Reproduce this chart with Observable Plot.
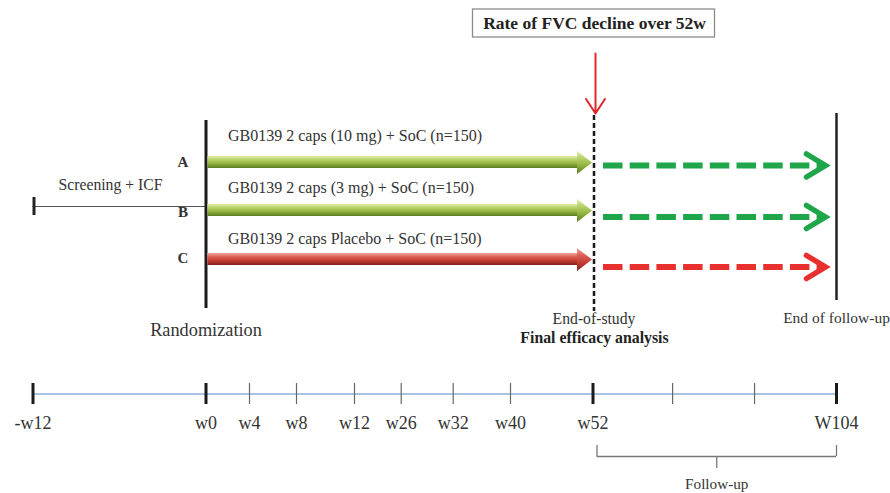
<!DOCTYPE html>
<html><head><meta charset="utf-8">
<script src="https://cdn.jsdelivr.net/npm/d3@7"></script>
<script src="https://cdn.jsdelivr.net/npm/@observablehq/plot@0.6"></script>
<style>html,body{margin:0;padding:0;background:#fff}#chart{width:890px;height:493px}</style>
</head><body><div id="chart"></div>
<script>
// ---------- data ----------
const arms = ["A", "B", "C"];
const armLabels = [
  "GB0139 2 caps (10 mg) + SoC (n=150)",
  "GB0139 2 caps (3 mg) + SoC (n=150)",
  "GB0139 2 caps Placebo + SoC (n=150)"
];
const armGroup = ["active", "active", "placebo"];
const tickWeeks = [-12, 0, 4, 8, 12, 26, 32, 40, 52, 69, 86.5, 104];
const tickLabels = ["-w12", "w0", "w4", "w8", "w12", "w26", "w32", "w40", "w52", "", "", "W104"];
const majorTickWeeks = [-12, 0, 52, 104];
const screeningStartWeek = -12;
const randomizationWeek = 0;
const endOfStudyWeek = 52;
const endOfFollowUpWeek = 104;
const titleText = "Rate of FVC decline over 52w";

// ---------- layout / style (not data) ----------
const xDomain = [-12, 0, 4, 8, 12, 26, 32, 40, 52, 104];
const xRange  = [32.5, 205.5, 249, 296, 354, 400.7, 452.7, 510, 592.5, 836];
const layout = {
  barY: [162, 210, 259],
  dashY: [165, 216.5, 266.5],
  letterY: [162, 211.5, 258],
  labelY: [135, 187, 238]
};
const groupStyle = {
  active:  {fill: "url(#gradActive)",  dash: "#1fa64a"},
  placebo: {fill: "url(#gradPlacebo)", dash: "#e8302f"}
};
const FONT = "'Liberation Serif', 'Times New Roman', serif";
const TXT = "#333";

const armTable = arms.map((a, i) => ({
  arm: a, label: armLabels[i], group: armGroup[i],
  barY: layout.barY[i], dashY: layout.dashY[i], letterY: layout.letterY[i], labelY: layout.labelY[i],
  fill: groupStyle[armGroup[i]].fill, dash: groupStyle[armGroup[i]].dash
}));
const tickTable = tickWeeks.map((w, i) => ({week: w, label: tickLabels[i], major: majorTickWeeks.includes(w)}));

const arrowHead = {draw(ctx) { ctx.moveTo(0, 0); ctx.lineTo(-15, -11.5); ctx.lineTo(-15, 11.5); ctx.closePath(); }};
const chevron = {draw(ctx) { ctx.moveTo(-19, -11.5); ctx.lineTo(0, 0); ctx.lineTo(-19, 11.5); }};

function defsMark() {
  const defs = d3.create("svg:defs");
  const g1 = defs.append("linearGradient").attr("id", "gradActive").attr("x1", 0).attr("y1", 0).attr("x2", 0).attr("y2", 1);
  [["0%", "#e2eeb0"], ["30%", "#b9d46a"], ["65%", "#8fb03c"], ["100%", "#5a7a20"]].forEach(([o, c]) => g1.append("stop").attr("offset", o).attr("stop-color", c));
  const g2 = defs.append("linearGradient").attr("id", "gradPlacebo").attr("x1", 0).attr("y1", 0).attr("x2", 0).attr("y2", 1);
  [["0%", "#f2a8a0"], ["30%", "#dc625a"], ["65%", "#c23a32"], ["100%", "#80201b"]].forEach(([o, c]) => g2.append("stop").attr("offset", o).attr("stop-color", c));
  const f = defs.append("filter").attr("id", "armShadow").attr("x", "-5%").attr("y", "-50%").attr("width", "110%").attr("height", "200%");
  f.append("feDropShadow").attr("dx", 1).attr("dy", 2).attr("stdDeviation", 1.2).attr("flood-color", "#000").attr("flood-opacity", 0.3);
  return defs.node();
}

const chart = Plot.plot({
  width: 890, height: 493,
  margin: 0,
  style: {fontFamily: FONT, background: "white", overflow: "visible"},
  x: {type: "linear", domain: xDomain, range: xRange, axis: null},
  y: {type: "linear", domain: [0, 493], range: [0, 493], axis: null},
  color: {type: "identity"},
  marks: [
    defsMark,
    // title box + title
    Plot.rect([0], {x1: endOfStudyWeek, x2: endOfStudyWeek, y1: 9, y2: 37, insetLeft: -120, insetRight: -122, fill: "white", stroke: "#8c8c8c", strokeWidth: 1.3}),
    Plot.text([titleText], {x: endOfStudyWeek, y: 23, dx: 1.5, text: d => d, fontFamily: FONT, fontWeight: "bold", fontSize: 17.5, fill: "#222"}),
    // red arrow to end-of-study
    Plot.arrow([endOfStudyWeek], {x1: d => d, x2: d => d, y1: 53, y2: 113, dx: 2.5, stroke: "#e0262b", strokeWidth: 2, headLength: 13, headAngle: 66}),
    // screening line
    Plot.ruleY([206], {x1: screeningStartWeek, x2: randomizationWeek, stroke: "#555", strokeWidth: 1.2}),
    Plot.ruleX([screeningStartWeek], {y1: 197, y2: 215, dx: 1, stroke: "#222", strokeWidth: 3}),
    Plot.text(["Screening + ICF"], {x: -6, y: 184, dx: -9, text: d => d, fontFamily: FONT, fontSize: 15.7, fill: TXT}),
    // randomization / end-of-study / end of follow-up verticals
    Plot.ruleX([randomizationWeek], {y1: 120, y2: 308, stroke: "#1a1a1a", strokeWidth: 3}),
    Plot.ruleX([endOfStudyWeek], {y1: 115, y2: 311, dx: 1, stroke: "#1a1a1a", strokeWidth: 2.5, strokeDasharray: "5,3"}),
    Plot.ruleX([endOfFollowUpWeek], {y1: 113, y2: 300, stroke: "#222", strokeWidth: 2.5}),
    // treatment arms
    Plot.rect(armTable, {x1: randomizationWeek, x2: endOfStudyWeek, y1: d => d.barY - 6, y2: d => d.barY + 6, insetLeft: 2, insetRight: 14, fill: "fill", ariaLabel: "arm shaft"}),
    Plot.dot(armTable, {x: endOfStudyWeek, y: "barY", dx: -1, symbol: arrowHead, r: 10, fill: "fill", stroke: null, ariaLabel: "arm head"}),
    Plot.ruleY(armTable, {y: "dashY", x1: endOfStudyWeek, x2: endOfFollowUpWeek, insetLeft: 10.5, insetRight: 13, stroke: "dash", strokeWidth: 6, strokeDasharray: "19.5,7.2"}),
    Plot.dot(armTable, {x: endOfFollowUpWeek, y: "dashY", dx: -11, symbol: chevron, r: 10, fill: "none", stroke: "dash", strokeWidth: 5.5, strokeLinecap: "round", strokeLinejoin: "miter"}),
    Plot.text(armTable, {x: randomizationWeek, y: "letterY", dx: -23, text: "arm", fontFamily: FONT, fontWeight: "bold", fontSize: 15, fill: TXT}),
    Plot.text(armTable, {x: randomizationWeek, y: "labelY", dx: 22, text: "label", textAnchor: "start", fontFamily: FONT, fontSize: 16, fill: TXT}),
    // milestone captions
    Plot.text(["Randomization"], {x: randomizationWeek, y: 330, text: d => d, fontFamily: FONT, fontSize: 18.3, fill: TXT}),
    Plot.text(["End-of-study"], {x: endOfStudyWeek, y: 318, dx: 1, text: d => d, fontFamily: FONT, fontSize: 15.7, fill: TXT}),
    Plot.text(["Final efficacy analysis"], {x: endOfStudyWeek, y: 337.5, dx: 1.5, text: d => d, fontFamily: FONT, fontWeight: "bold", fontSize: 15.8, fill: "#222"}),
    Plot.text(["End of follow-up"], {x: endOfFollowUpWeek, y: 318, text: d => d, fontFamily: FONT, fontSize: 15.5, fill: TXT}),
    // timeline
    Plot.ruleY([393.5], {x1: screeningStartWeek, x2: endOfFollowUpWeek, stroke: "#a9c4e2", strokeWidth: 2.2}),
    Plot.ruleX(tickTable.filter(d => !d.major), {x: "week", y1: 383, y2: 404, stroke: "#666", strokeWidth: 1.2}),
    Plot.ruleX(tickTable.filter(d => d.major), {x: "week", y1: 383, y2: 404, stroke: "#1a1a1a", strokeWidth: 3}),
    Plot.text(tickTable, {x: "week", y: 423, text: "label", fontFamily: FONT, fontSize: 18, fill: TXT}),
    // follow-up bracket
    Plot.ruleY([456], {x1: endOfStudyWeek, x2: endOfFollowUpWeek, insetLeft: 4, stroke: "#777", strokeWidth: 1.3}),
    Plot.ruleX([endOfStudyWeek], {y1: 445, y2: 456, dx: 4, stroke: "#777", strokeWidth: 1.3}),
    Plot.ruleX([endOfFollowUpWeek], {y1: 445, y2: 456, stroke: "#777", strokeWidth: 1.3}),
    Plot.ruleX([(endOfStudyWeek + endOfFollowUpWeek) / 2], {y1: 456, y2: 468, dx: 2, stroke: "#777", strokeWidth: 1.3}),
    Plot.text(["Follow-up"], {x: (endOfStudyWeek + endOfFollowUpWeek) / 2, y: 484, dx: 2, text: d => d, fontFamily: FONT, fontSize: 15.2, fill: TXT})
  ]
});
document.getElementById("chart").appendChild(chart);
d3.select(chart).selectAll('g[aria-label="arm shaft"], g[aria-label="arm head"]').attr("filter", "url(#armShadow)");
</script>
</body></html>
